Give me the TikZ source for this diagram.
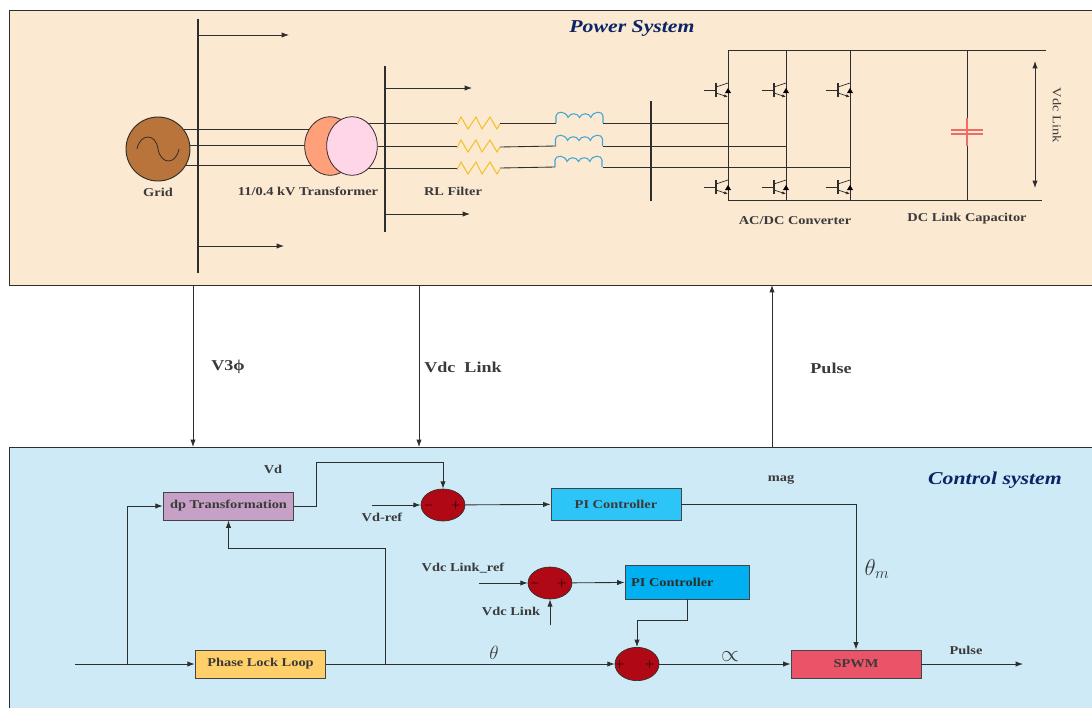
\documentclass[tikz,border=0pt]{standalone}
\usepackage{fontspec}
\setmainfont{Liberation Serif}[FakeStretch=1.2]
\usetikzlibrary{shapes.geometric,arrows.meta}
\definecolor{panelA}{HTML}{FCE9D2}
\definecolor{panelB}{HTML}{CEEAF6}
\definecolor{ink}{HTML}{2E2E2E}
\definecolor{edge}{HTML}{444444}
\definecolor{lbl}{HTML}{3A3A3A}
\definecolor{navy}{HTML}{0B2466}
\definecolor{sumred}{HTML}{B00814}
\definecolor{gridbrown}{HTML}{B8743A}
\definecolor{trorange}{HTML}{FFA07A}
\definecolor{trpink}{HTML}{FFD5E8}
\definecolor{dpfill}{HTML}{C6A0C6}
\definecolor{pifillA}{HTML}{2DC5F7}
\definecolor{pifillB}{HTML}{00B0F0}
\definecolor{pllfill}{HTML}{FFD06A}
\definecolor{pwmfill}{HTML}{EB5468}
\definecolor{resyellow}{HTML}{F5C02C}
\definecolor{indblue}{HTML}{3FA7D6}
\definecolor{capred}{HTML}{EE6B66}
\tikzset{
  wire/.style={draw=ink,line width=0.65pt},
  arr/.style={wire,-{Latex[length=5.5pt,width=4pt]}},
  arrboth/.style={wire,{Latex[length=5.5pt,width=4pt]}-{Latex[length=5.5pt,width=4pt]}},
  bus/.style={draw=ink,line width=0.9pt},
  block/.style={draw=edge,line width=0.7pt,inner sep=0pt,font=\bfseries\fontsize{9}{10}\selectfont,text=lbl},
  sumnode/.style={ellipse,draw=ink,line width=0.5pt,fill=sumred,minimum width=33pt,minimum height=24pt,inner sep=0pt},
  sgn/.style={inner sep=0pt,font=\fontsize{9}{9}\selectfont,text=black},
  lab/.style={inner sep=0pt,text=lbl,font=\bfseries\fontsize{9}{10}\selectfont},
  biglab/.style={inner sep=0pt,text=lbl,font=\bfseries\fontsize{11.3}{12}\selectfont},
  title/.style={inner sep=0pt,text=navy,font=\bfseries\itshape\fontsize{13.6}{15}\selectfont},
  res/.style={draw=resyellow,line width=0.8pt},
  ind/.style={draw=indblue,line width=0.8pt},
  gnd/.style={draw=ink,line width=0.55pt},
}
\newcommand{\igbt}[2]{%
  \draw[gnd] (#1-24,#2) -- (#1-12,#2);
  \draw[gnd,line width=0.8pt] (#1-12,#2-7) -- (#1-12,#2+7);
  \draw[gnd] (#1-12,#2-3) -- (#1,#2-7);
  \draw[gnd,-{Latex[length=3pt,width=2.5pt]}] (#1-12,#2+3) -- (#1,#2+7);
  \fill[black] (#1-3,#2+3) -- (#1+3,#2+3) -- (#1,#2-2) -- cycle;
}
\newcommand{\resist}[2]{%
  \draw[res] (#1,#2+2) -- (#1+4,#2-6) -- (#1+11,#2+6) -- (#1+19,#2-6) -- (#1+25,#2+6) -- (#1+33,#2-6) -- (#1+40,#2+6) -- (#1+43,#2+1);
}
\newcommand{\induct}[2]{%
  \draw[ind] (#1,#2) -- ++(0,-7)
    .. controls +(0,-5) and +(-2,-7) .. ++(12,1.5)
    .. controls +(2,-5) and +(-2,-5) .. ++(11.5,0)
    .. controls +(2,-5) and +(-2,-5) .. ++(11.5,0)
    .. controls +(2,-7) and +(0,-5) .. ++(12,-1.5) -- ++(0,7);
}
\begin{document}
\begin{tikzpicture}[x=0.75pt,y=-0.75pt]
\useasboundingbox (0,0) rectangle (1092,708);
% panels
\fill[panelA] (9,10) rectangle (1092,285);
\draw[ink,line width=0.6pt] (1092,10) -- (9,10) -- (9,285) -- (1092,285);
\fill[panelB] (9,447) rectangle (1092,708);
\draw[ink,line width=0.6pt] (1092,447) -- (9,447) -- (9,708);
\coordinate (panelAtopL) at (193,285);
\coordinate (panelAtopM) at (419,285);
\coordinate (panelAtopR) at (772,285);
\coordinate (panelBtopL) at (193,447);
\coordinate (panelBtopM) at (419,447);
\coordinate (panelBtopR) at (772,447);
\draw[arr] (panelAtopL) -- (panelBtopL);
\draw[arr] (panelAtopM) -- (panelBtopM);
\draw[arr] (panelBtopR) -- (panelAtopR);
\node[biglab] (lv3) at (228,367) {V3ϕ};
\node[biglab] (lvdc) at (463,367) {Vdc\ \ Link};
\node[biglab] (lpulse) at (831,368) {Pulse};
\node[title] (tps) at (632,28) {Power System};
\node[title] (tcs) at (995,480) {Control system};

% power system: buses
\coordinate (b1t) at (198,19); \coordinate (b1b) at (198,273);
\draw[bus] (b1t) -- (b1b);
\coordinate (b2t) at (385,66); \coordinate (b2b) at (385,232);
\draw[bus] (b2t) -- (b2b);
\coordinate (b3t) at (651,101); \coordinate (b3b) at (651,201);
\draw[bus] (b3t) -- (b3b);
\coordinate (a1s) at (198,35); \coordinate (a1e) at (289,35);
\coordinate (a2s) at (198,246); \coordinate (a2e) at (284,246);
\coordinate (a3s) at (385,88); \coordinate (a3e) at (472,88);
\coordinate (a4s) at (385,214); \coordinate (a4e) at (470,214);
\draw[arr] (a1s) -- (a1e);
\draw[arr] (a2s) -- (a2e);
\draw[arr] (a3s) -- (a3e);
\draw[arr] (a4s) -- (a4e);

% grid to transformer wires
\coordinate (g1) at (184,129); \coordinate (t1) at (312,129);
\coordinate (g2) at (190,145); \coordinate (t2) at (305,145);
\coordinate (g3) at (186,165); \coordinate (t3) at (312,165);
\draw[wire] (g1) -- (t1);
\draw[wire] (g2) -- (t2);
\draw[wire] (g3) -- (t3);

% grid
\node[circle,draw=ink,line width=0.7pt,fill=gridbrown,minimum size=48pt,inner sep=0pt] (grid) at (158,149) {};
\draw[ink,line width=0.6pt] (137,149) .. controls (140,133) and (156,133) .. (158,149) .. controls (161,165) and (176,165) .. (179,149);
\node[lab] (lgrid) at (158,192) {Grid};

% transformer
\node[ellipse,draw=ink,line width=0.6pt,fill=trorange,minimum width=38pt,minimum height=44pt,inner sep=0pt] (trA) at (330,146) {};
\node[ellipse,draw=ink,line width=0.6pt,fill=trpink,minimum width=38pt,minimum height=44pt,inner sep=0pt] (trB) at (352,146) {};
\node[lab] (ltr) at (308,191) {11/0.4 kV Transformer};

% secondary wires
\coordinate (s1) at (368,123); \coordinate (r1) at (457,123);
\coordinate (s2) at (378,146); \coordinate (r2) at (457,146);
\coordinate (s3) at (368,168); \coordinate (r3) at (457,168);
\draw[wire] (s1) -- (r1);
\draw[wire] (s2) -- (r2);
\draw[wire] (s3) -- (r3);
\resist{457}{123}\resist{457}{146}\resist{457}{168}
\node[lab] (lrl) at (453,191) {RL Filter};
\coordinate (r1e) at (500,123); \coordinate (l1) at (556,123);
\coordinate (r2e) at (500,147); \coordinate (l2) at (556,146);
\coordinate (r3e) at (500,168); \coordinate (l3) at (555,167);
\draw[wire] (r1e) -- (l1);
\draw[wire] (r2e) -- (l2);
\draw[wire] (r3e) -- (l3);
\induct{556}{123}\induct{555.5}{146}\induct{555}{167}
\coordinate (l1e) at (603,123); \coordinate (c1) at (728,123);
\coordinate (l2e) at (603,146); \coordinate (c2) at (786,146);
\coordinate (l3e) at (603,167); \coordinate (c3) at (850,167);
\draw[wire] (l1e) -- (c1);
\draw[wire] (l2e) -- (c2);
\draw[wire] (l3e) -- (c3);

% converter
\coordinate (tl) at (728,50); \coordinate (tr) at (1046,50);
\coordinate (bl) at (728,200); \coordinate (br) at (1042,200);
\coordinate (m1t) at (786,50); \coordinate (m1b) at (786,200);
\coordinate (m2t) at (850,50); \coordinate (m2b) at (850,200);
\coordinate (capt) at (967,50); \coordinate (capb) at (967,200);
\draw[wire,line width=0.7pt] (tr) -- (tl) -- (bl) -- (br);
\draw[wire,line width=0.7pt] (m1t) -- (m1b);
\draw[wire,line width=0.7pt] (m2t) -- (m2b);
\draw[wire] (capt) -- (capb);
\igbt{728}{90}\igbt{786}{90}\igbt{850}{90}
\igbt{728}{187}\igbt{786}{187}\igbt{850}{187}
\draw[capred,line width=0.9pt] (967,118) -- (967,146);
\draw[capred,line width=0.9pt] (951,130) -- (983,130);
\draw[capred,line width=0.9pt] (951,134) -- (983,134);
\coordinate (va) at (1035,61); \coordinate (vb) at (1035,188);
\draw[arrboth] (va) -- (vb);
\node[inner sep=0pt,rotate=-90,text=lbl,font=\fontsize{9}{10}\selectfont] (lvl) at (1057,115) {Vdc Link};
\node[lab] (lconv) at (795,221) {AC/DC Converter};
\node[lab] (lcap) at (967,219) {DC Link Capacitor};

% control system blocks
\node[block,fill=dpfill,minimum width=98pt,minimum height=21pt] (dp) at (228.5,506) {dp Transformation};
\node[block,fill=pifillA,minimum width=97.5pt,minimum height=24pt] (pi1) at (616,504) {PI Controller};
\node[block,fill=pifillB,minimum width=93pt,minimum height=25.5pt,text=ink] (pi2) at (687,582) {PI Controller\hspace*{22pt}};
\node[block,fill=pllfill,minimum width=98pt,minimum height=21pt] (pll) at (260.5,664) {Phase Lock Loop};
\node[block,fill=pwmfill,minimum width=97.5pt,minimum height=21pt] (spwm) at (856,664) {SPWM};
\node[sumnode] (s1c) at (443,505) {};
\node[sumnode] (s2c) at (550,583) {};
\node[sumnode,minimum height=25pt] (s3c) at (637,664) {};
\node[sgn] (s1m) at (429,505) {$-$};
\node[sgn] (s1p) at (456,505) {$+$};
\node[sgn] (s2m) at (535,583) {$-$};
\node[sgn] (s2p) at (562,583) {$+$};
\node[sgn] (s3m) at (620,664) {$+$};
\node[sgn] (s3p) at (650,664) {$+$};

% control wires
\coordinate (in) at (75,664);
\coordinate (tap1) at (127,664);
\coordinate (tap2) at (385,664);
\coordinate (out) at (1023,664);
\coordinate (vdr) at (372,505);
\coordinate (vlr) at (479,583);
\coordinate (vl) at (550,625);
\draw[arr] (in) -- (pll);
\draw[arr] (tap1) |- (dp.west);
\draw[arr] (pll) -- (s3c);
\draw[arr] (tap2) -- (385,548) -| (dp.south);
\draw[arr] (dp.east) -- (316,506) -- (316,462) -| (s1c.north);
\draw[arr] (vdr) -- (s1c);
\draw[arr] (s1c) -- (pi1);
\draw[arr] (pi1.east) -| (spwm.north);
\draw[arr] (vlr) -- (s2c);
\draw[arr] (vl) -- (s2c);
\draw[arr] (s2c) -- (pi2);
\draw[arr] (pi2.south) -- (687,620) -| (s3c.north);
\draw[arr] (s3c) -- (spwm);
\draw[arr] (spwm) -- (out);

% control labels
\node[lab] (lvd) at (273,469) {Vd};
\node[lab] (lvdr) at (382,517) {Vd-ref};
\node[lab] (lvlr) at (463,568) {Vdc Link\_ref};
\node[lab] (lvl2) at (511,611) {Vdc Link};
\node[inner sep=0pt,text=lbl,font=\fontsize{14}{15}\selectfont] (lth) at (494,653) {$\theta$};
\node[inner sep=0pt,text=lbl,font=\fontsize{17}{18}\selectfont] (lthm) at (877,569) {$\theta_m$};
\node[inner sep=0pt,text=lbl,font=\fontsize{16}{17}\selectfont] (lal) at (730,657) {$\propto$};
\node[lab] (lp2) at (966,650) {Pulse};
\node[lab] (lmag) at (781,480) {mag};
\end{tikzpicture}
\end{document}
